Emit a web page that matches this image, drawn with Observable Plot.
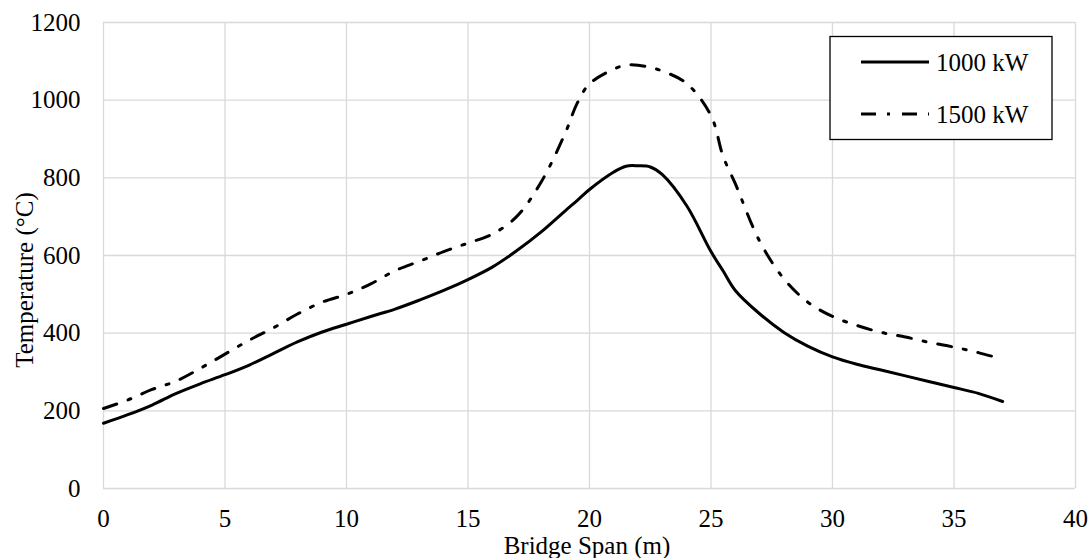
<!DOCTYPE html>
<html>
<head>
<meta charset="utf-8">
<script src="https://cdn.jsdelivr.net/npm/d3@7"></script>
<script src="https://cdn.jsdelivr.net/npm/@observablehq/plot@0.6"></script>
<style>
  html, body { margin: 0; padding: 0; background: #fff; }
  #chart { width: 1092px; height: 558px; }
  #chart svg, #chart svg text { font-family: "Liberation Serif", "Times New Roman", "DejaVu Serif", serif !important; }
</style>
</head>
<body>
<div id="chart"></div>
<script>
// Bridge span positions (m)
const span = [0,1,2,3,4,5,6,7,8,9,10,11,12,13,14,15,16,17,18,19,19.5,20,21,21.5,22,22.5,23,24,25,25.5,26,27,28,29,30,31,32,33,34,35,36,37];
// Temperature (°C), 1000 kW fire
const temp1000 = [168,190,215,245,270,293,318,348,378,403,423,443,462,485,510,538,570,612,660,715,742,770,815,830,831,828,808,728,610,560,510,450,402,366,339,320,305,290,275,260,245,224];
// Temperature (°C), 1500 kW fire
const temp1500 = [206,228,255,277,310,346,382,414,450,480,500,527,561,585,610,632,655,700,788,915,993,1042,1080,1090,1090,1084,1075,1043,960,855,785,637,540,479,443,420,402,390,376,364,350,333];
const seriesNames = ["1000 kW", "1500 kW"];
const xTicks = [0,5,10,15,20,25,30,35,40];
const yTicks = [0,200,400,600,800,1000,1200];
const xLabel = "Bridge Span (m)";
const yLabel = "Temperature (°C)";

const rows1000 = span.map((s, i) => ({span: s, temp: temp1000[i], series: seriesNames[0]}));
const rows1500 = span.map((s, i) => ({span: s, temp: temp1500[i], series: seriesNames[1]}));

const FONT = "'Liberation Serif', 'Times New Roman', 'DejaVu Serif', serif";
const dashDot = "14,12,3,12";

const chart = Plot.plot({
  width: 1092,
  height: 558,
  marginLeft: 103,
  marginRight: 17,
  marginTop: 22,
  marginBottom: 70,
  style: {fontFamily: FONT, fontSize: "25px", color: "#000", background: "#fff"},
  x: {domain: [0, 40]},
  y: {domain: [0, 1200]},
  marks: [
    Plot.gridX(xTicks, {stroke: "#d9d9d9", strokeOpacity: 1, strokeWidth: 1.3}),
    Plot.gridY(yTicks, {stroke: "#d9d9d9", strokeOpacity: 1, strokeWidth: 1.3}),
    Plot.axisX(xTicks, {tickSize: 0, tickPadding: 21, label: null, fontSize: 25, tickFormat: d => String(d)}),
    Plot.axisY(yTicks, {tickSize: 0, tickPadding: 23, label: null, fontSize: 25, tickFormat: d => String(d)}),
    Plot.line(rows1000, {x: "span", y: "temp", stroke: "#000", strokeWidth: 3, curve: "catmull-rom"}),
    Plot.line(rows1500, {x: "span", y: "temp", stroke: "#000", strokeWidth: 3, curve: "catmull-rom", strokeDasharray: dashDot})
  ]
});

document.getElementById("chart").appendChild(chart);

const svg = d3.select(chart);
// Axis titles
svg.append("text")
  .attr("x", 587).attr("y", 554)
  .attr("text-anchor", "middle")
  .style("font-size", "25px").attr("fill", "#000")
  .text(xLabel);
svg.append("text")
  .attr("transform", "translate(33,280) rotate(-90)")
  .attr("text-anchor", "middle")
  .style("font-size", "25px").attr("fill", "#000")
  .text(yLabel);

// Legend
const lg = svg.append("g");
lg.append("rect").attr("x", 830).attr("y", 36.5).attr("width", 222).attr("height", 103)
  .attr("fill", "#fff").attr("stroke", "#000").attr("stroke-width", 1.3);
const items = [{name: seriesNames[0], dash: null, y: 62}, {name: seriesNames[1], dash: dashDot, y: 114}];
items.forEach(it => {
  const ln = lg.append("line").attr("x1", 861).attr("x2", 929).attr("y1", it.y).attr("y2", it.y)
    .attr("stroke", "#000").attr("stroke-width", 3);
  if (it.dash) ln.attr("stroke-dasharray", "15,11,3,12");
  lg.append("text").attr("x", 936).attr("y", it.y).attr("dy", "0.35em")
    .attr("text-anchor", "start")
    .style("font-size", "25px").attr("fill", "#000")
    .text(it.name);
});
</script>
</body>
</html>
